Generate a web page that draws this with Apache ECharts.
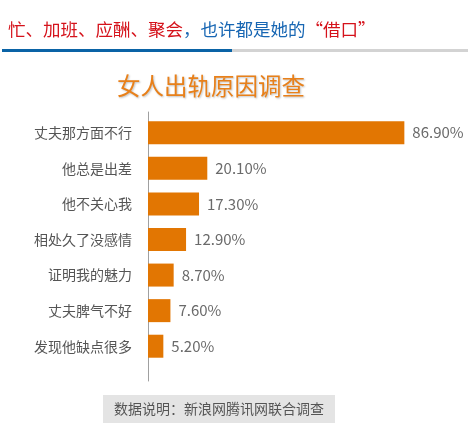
<!DOCTYPE html>
<html>
<head>
<meta charset="utf-8">
<script src="https://cdn.jsdelivr.net/npm/echarts@6/dist/echarts.min.js"></script>
<style>
html,body{margin:0;padding:0;background:#fff;}
#main{width:468px;height:427px;}
</style>
</head>
<body>
<div id="main"></div>
<script>
const categories = ['丈夫那方面不行','他总是出差','他不关心我','相处久了没感情','证明我的魅力','丈夫脾气不好','发现他缺点很多'];
const values = [86.9, 20.1, 17.3, 12.9, 8.7, 7.6, 5.2];
const headerRed1 = '忙、加班、应酬、聚会';
const headerBlue = '，也许都是她的';
const headerRed2 = '“借口”';
const chartTitle = '女人出轨原因调查';
const footnote = '数据说明：新浪网腾讯网联合调查';

const FONT = '"Noto Sans CJK SC", "Noto Sans", sans-serif';
const chart = echarts.init(document.getElementById('main'), null, {renderer:'canvas'});
chart.setOption({
  backgroundColor: '#fff',
  animation: false,
  title: [
    {
      text: '{r|' + headerRed1 + '}{b|' + headerBlue + '}{r|' + headerRed2 + '}',
      left: 3, top: 16,
      textStyle: {
        fontFamily: FONT, fontSize: 17.5, fontWeight: 'normal',
        rich: {
          r: {color: '#d5121b', fontSize: 17.5, fontFamily: FONT},
          b: {color: '#1766b3', fontSize: 17.5, fontFamily: FONT}
        }
      }
    },
    {
      text: chartTitle,
      left: 112, top: 69,
      textStyle: {
        fontFamily: FONT, fontSize: 23.5, fontWeight: 'normal', color: '#e8801a',
        textShadowColor: 'rgba(0,0,0,0.25)', textShadowBlur: 2,
        textShadowOffsetX: 1, textShadowOffsetY: 1
      }
    },
    {
      text: footnote,
      left: 103, top: 395,
      backgroundColor: '#e4e4e4',
      padding: [6, 11, 6, 11],
      textStyle: {fontFamily: FONT, fontSize: 14, fontWeight: 'normal', color: '#555', lineHeight: 16}
    }
  ],
  graphic: [
    {type: 'rect', shape: {x: 232, y: 49, width: 236, height: 3}, style: {fill: '#d3d3d3'}},
    {type: 'rect', shape: {x: 2, y: 49, width: 230, height: 3}, style: {fill: '#0a63a6'}}
  ],
  grid: [
    {left: 148, top: 115, height: 249, right: 25, containLabel: false},
    {left: 148, top: 112, bottom: 46, right: 25, containLabel: false}
  ],
  xAxis: [
    {type: 'value', gridIndex: 0, min: 0, max: 100, show: false},
    {type: 'value', gridIndex: 1, min: 0, max: 100, show: false}
  ],
  yAxis: [
    {
      type: 'category', gridIndex: 0, data: categories, inverse: true,
      axisLine: {show: false}, axisTick: {show: false}, splitLine: {show: false},
      axisLabel: {fontFamily: FONT, fontSize: 14, color: '#555', margin: 16}
    },
    {
      type: 'value', gridIndex: 1, min: 0, max: 1,
      axisLine: {show: true, lineStyle: {color: '#a0a0a0', width: 1}},
      axisTick: {show: false}, axisLabel: {show: false}, splitLine: {show: false}
    }
  ],
  series: [{
    type: 'bar', xAxisIndex: 0, yAxisIndex: 0,
    data: values, barWidth: 23,
    itemStyle: {color: '#e27602'},
    label: {
      show: true, position: 'right', distance: 8,
      fontFamily: FONT, fontSize: 15, color: '#6a6a6a',
      formatter: p => p.value.toFixed(2) + '%'
    }
  }]
});
</script>
</body>
</html>
